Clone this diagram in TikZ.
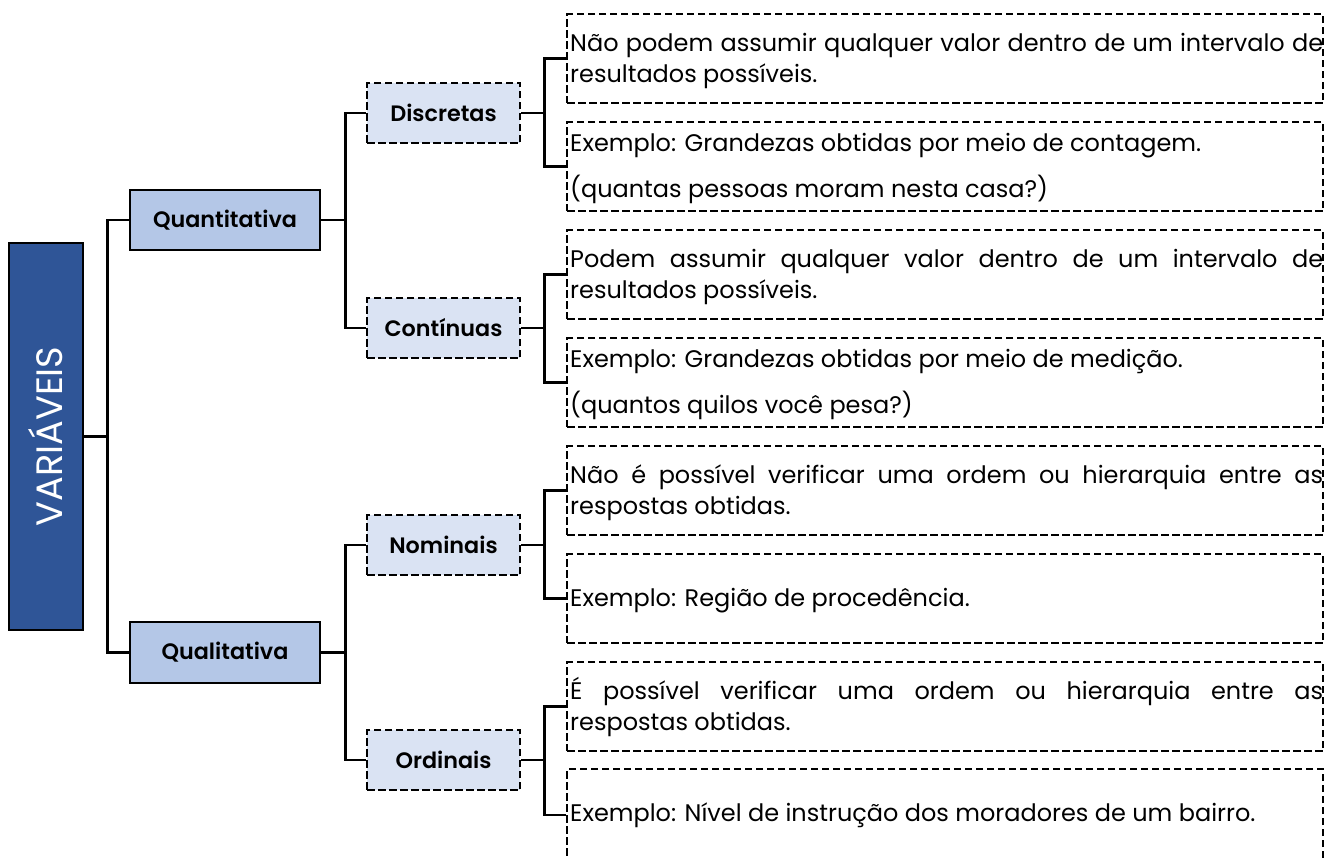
\documentclass[tikz,border=0pt]{standalone}
\usepackage{fontspec}
\setmainfont{Poppins}
\newfontfamily\headfam{Poppins SemiBold}
\usetikzlibrary{calc}
\definecolor{varblue}{HTML}{2F5597}
\definecolor{lvlone}{HTML}{B4C7E7}
\definecolor{lvltwo}{HTML}{DAE3F3}
\newlength\calw
\newcommand\bodyfont{\fontsize{\bodysz pt}{\bodysz pt}\selectfont}
\newcommand\headfont{\headfam\fontsize{\headsz pt}{\headsz pt}\selectfont}
\newcommand\varfont{\fontsize{\varsz pt}{\varsz pt}\selectfont}
\newcommand\jline[1]{\makebox[753pt][s]{#1}}
\AtBeginDocument{%
\settowidth\calw{\normalfont\fontsize{10pt}{12pt}\selectfont Exemplo: Grandezas obtidas por meio de contagem.}%
\pgfmathsetmacro\bodysz{10*631/\calw}\global\let\bodysz\bodysz
\settowidth\calw{\headfam\fontsize{10pt}{12pt}\selectfont Quantitativa}%
\pgfmathsetmacro\headsz{10*144/\calw}\global\let\headsz\headsz
\settowidth\calw{\normalfont\fontsize{10pt}{12pt}\selectfont VARIÁVEIS}%
\pgfmathsetmacro\varsz{10*180/\calw}\global\let\varsz\varsz
}
\begin{document}
\begin{tikzpicture}[x=1pt,y=-1pt,
  conn/.style={line width=2.5pt, black},
  varbox/.style={draw, line width=2.5pt, fill=varblue, minimum width=74pt, minimum height=387pt, inner sep=0pt, text=white},
  firstbox/.style={draw, line width=2.5pt, fill=lvlone, minimum width=190pt, minimum height=60pt, inner sep=0pt, font=\headfont},
  secondbox/.style={draw, line width=2.5pt, dash pattern=on 7.5pt off 3.5pt, fill=lvltwo, minimum width=153pt, minimum height=60pt, inner sep=0pt, font=\headfont},
  descbox/.style={draw, line width=2.5pt, dash pattern=on 7.5pt off 3.5pt, minimum width=756pt, minimum height=89pt, inner sep=0pt},
  desc/.style={anchor=base west, inner sep=0pt, font=\bodyfont}]
\path[use as bounding box] (0,0) rectangle (1327,857);

% level 0
\node[varbox] (var) at (46,436.5) {\rotatebox{90}{\varfont VARIÁVEIS}};
% level 1
\node[firstbox] (quant) at (225,220) {Quantitativa};
\node[firstbox, minimum height=61pt] (qual) at (225,652.5) {Qualitativa};
% level 2
\node[secondbox] (disc) at (443.5,113) {Discretas};
\node[secondbox] (cont) at (443.5,328) {Contínuas};
\node[secondbox] (nom) at (443.5,545) {Nominais};
\node[secondbox] (ord) at (443.5,760) {Ordinais};
% description boxes
\node[descbox] (b1) at (945,58.5) {};
\node[descbox] (b2) at (945,166.5) {};
\node[descbox] (b3) at (945,274.5) {};
\node[descbox] (b4) at (945,382.5) {};
\node[descbox] (b5) at (945,490.5) {};
\node[descbox] (b6) at (945,598.5) {};
\node[descbox] (b7) at (945,706.5) {};
\node[descbox, minimum height=92pt] (b8) at (945,815) {};

% texts
\node[desc] (t1a) at (570,51) {\jline{Não podem assumir qualquer valor dentro de um intervalo de}};
\node[desc] (t1b) at (570,82) {resultados possíveis.};
\node[desc] (t2a) at (570,151) {Exemplo: Grandezas obtidas por meio de contagem.};
\node[desc] (t2b) at (570,197) {(quantas pessoas moram nesta casa?)};
\node[desc] (t3a) at (570,267) {\jline{Podem assumir qualquer valor dentro de um intervalo de}};
\node[desc] (t3b) at (570,298) {resultados possíveis.};
\node[desc] (t4a) at (570,367) {Exemplo: Grandezas obtidas por meio de medição.};
\node[desc] (t4b) at (570,413) {(quantos quilos você pesa?)};
\node[desc] (t5a) at (570,483) {\jline{Não é possível verificar uma ordem ou hierarquia entre as}};
\node[desc] (t5b) at (570,514) {respostas obtidas.};
\node[desc] (t6a) at (570,606) {Exemplo: Região de procedência.};
\node[desc] (t7a) at (570,699) {\jline{É possível verificar uma ordem ou hierarquia entre as}};
\node[desc] (t7b) at (570,730) {respostas obtidas.};
\node[desc] (t8a) at (570,821) {Exemplo: Nível de instrução dos moradores de um bairro.};

% connectors
\draw[conn] (var.east) -- ++(23,0) |- (quant.west);
\draw[conn] (var.east) -- ++(23,0) |- (qual.west);
\draw[conn] (quant.east) -- ++(24,0) |- (disc.west);
\draw[conn] (quant.east) -- ++(24,0) |- (cont.west);
\draw[conn] (qual.east) -- ++(24,0) |- (nom.west);
\draw[conn] (qual.east) -- ++(24,0) |- (ord.west);
\draw[conn] (disc.east) -- ++(23,0) |- (b1.west);
\draw[conn] (disc.east) -- ++(23,0) |- (b2.west);
\draw[conn] (cont.east) -- ++(23,0) |- (b3.west);
\draw[conn] (cont.east) -- ++(23,0) |- (b4.west);
\draw[conn] (nom.east) -- ++(23,0) |- (b5.west);
\draw[conn] (nom.east) -- ++(23,0) |- (b6.west);
\draw[conn] (ord.east) -- ++(23,0) |- (b7.west);
\draw[conn] (ord.east) -- ++(23,0) |- (b8.west);
\end{tikzpicture}
\end{document}
